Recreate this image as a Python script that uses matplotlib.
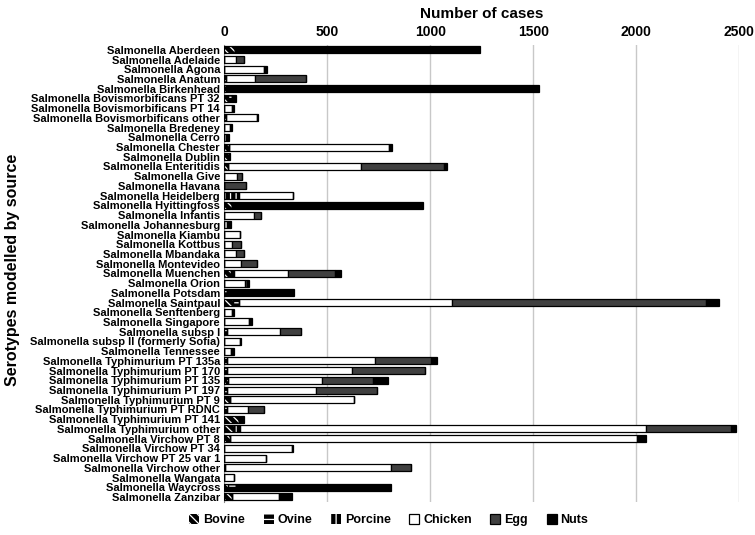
import numpy as np
import matplotlib
matplotlib.use("Agg")
import matplotlib.pyplot as plt
from matplotlib.patches import Patch

plt.rcParams["font.family"] = ["Liberation Sans", "DejaVu Sans"]
plt.rcParams["hatch.linewidth"] = 0.9

# Datos
serotipos = [
    "Salmonella Aberdeen", "Salmonella Adelaide", "Salmonella Agona", "Salmonella Anatum",
    "Salmonella Birkenhead", "Salmonella Bovismorbificans PT 32", "Salmonella Bovismorbificans PT 14",
    "Salmonella Bovismorbificans other", "Salmonella Bredeney", "Salmonella Cerro",
    "Salmonella Chester", "Salmonella Dublin", "Salmonella Enteritidis", "Salmonella Give",
    "Salmonella Havana", "Salmonella Heidelberg", "Salmonella Hyittingfoss", "Salmonella Infantis",
    "Salmonella Johannesburg", "Salmonella Kiambu", "Salmonella Kottbus", "Salmonella Mbandaka",
    "Salmonella Montevideo", "Salmonella Muenchen", "Salmonella Orion", "Salmonella Potsdam",
    "Salmonella Saintpaul", "Salmonella Senftenberg", "Salmonella Singapore", "Salmonella subsp I",
    "Salmonella subsp II (formerly Sofia)", "Salmonella Tennessee", "Salmonella Typhimurium PT 135a",
    "Salmonella Typhimurium PT 170", "Salmonella Typhimurium PT 135", "Salmonella Typhimurium PT 197",
    "Salmonella Typhimurium PT 9", "Salmonella Typhimurium PT RDNC", "Salmonella Typhimurium PT 141",
    "Salmonella Typhimurium other", "Salmonella Virchow PT 8", "Salmonella Virchow PT 34",
    "Salmonella Virchow PT 25 var 1", "Salmonella Virchow other", "Salmonella Wangata",
    "Salmonella Waycross", "Salmonella Zanzibar",
]

bovine = [50, 0, 0, 0, 0, 20, 0, 0, 0, 0, 25, 25, 20, 0, 0, 0, 40, 0, 0, 0, 0, 0, 0, 32,
          0, 0, 42, 0, 0, 0, 0, 0, 0, 0, 10, 0, 30, 0, 70, 48, 30, 0, 0, 0, 0, 20, 37]
ovine = [0, 0, 0, 8, 10, 20, 0, 10, 0, 0, 0, 0, 0, 0, 0, 0, 0, 0, 0, 0, 0, 0, 0, 0,
         0, 15, 28, 0, 0, 12, 0, 0, 12, 12, 8, 12, 0, 12, 0, 0, 0, 0, 0, 5, 0, 38, 0]
porcine = [0, 0, 0, 0, 0, 0, 0, 0, 0, 12, 0, 0, 0, 0, 0, 70, 0, 0, 0, 0, 0, 0, 0, 15,
           0, 0, 0, 0, 0, 0, 0, 0, 0, 0, 0, 0, 0, 0, 0, 29, 0, 0, 0, 0, 0, 0, 0]
chicken = [0, 55, 195, 140, 0, 0, 40, 150, 30, 0, 775, 0, 645, 60, 0, 262, 0, 145, 12, 75,
           37, 57, 80, 264, 100, 0, 1037, 40, 118, 260, 78, 32, 720, 607, 456, 432, 600, 105,
           0, 1971, 1975, 328, 204, 805, 45, 0, 231]
egg = [0, 40, 0, 250, 0, 0, 0, 0, 0, 0, 0, 0, 400, 25, 105, 0, 0, 35, 0, 0, 43, 37, 78, 226,
       10, 0, 1233, 0, 0, 100, 0, 0, 270, 355, 248, 296, 0, 76, 0, 413, 0, 0, 0, 97, 0, 0, 0]
nuts = [1190, 0, 15, 0, 1520, 15, 5, 5, 8, 10, 15, 5, 15, 0, 0, 3, 925, 0, 20, 3, 0, 0, 0,
        32, 10, 325, 63, 5, 15, 0, 3, 15, 30, 0, 75, 0, 0, 0, 24, 24, 43, 8, 0, 0, 0, 750, 60]

fuentes = ["Bovine", "Ovine", "Porcine", "Chicken", "Egg", "Nuts"]
series = [bovine, ovine, porcine, chicken, egg, nuts]
estilos = [
    dict(color="black", hatch="\\\\\\\\", hatched=True),
    dict(color="black", hatch="---", hatched=True),
    dict(color="black", hatch="|||", hatched=True),
    dict(color="white", hatch=None, hatched=False),
    dict(color="#404040", hatch=None, hatched=False),
    dict(color="black", hatch=None, hatched=False),
]

fig = plt.figure(figsize=(7.55, 5.35), dpi=100)
ax = fig.add_axes([0.297, 0.062, 0.682, 0.854])

y = np.arange(len(serotipos))
izq = np.zeros(len(serotipos))
manejadores = []
for nombre, valores, est in zip(fuentes, series, estilos):
    v = np.array(valores, dtype=float)
    if est["hatched"]:
        ax.barh(y, v, left=izq, height=0.72, color=est["color"], edgecolor="white",
                hatch=est["hatch"], linewidth=0, zorder=3)
        ax.barh(y, v, left=izq, height=0.72, fill=False, edgecolor="black",
                linewidth=0.9, zorder=4)
        manejadores.append(Patch(facecolor="black", edgecolor="white", hatch=est["hatch"],
                                 linewidth=0, label=nombre))
    else:
        ax.barh(y, v, left=izq, height=0.72, color=est["color"], edgecolor="black",
                linewidth=0.9, zorder=3)
        manejadores.append(Patch(facecolor=est["color"], edgecolor="black",
                                 linewidth=0.9, label=nombre))
    izq += v

ax.set_ylim(len(serotipos) - 0.5, -0.5)
ax.set_xlim(0, 2500)
ax.set_xticks(np.arange(0, 2501, 500))
ax.xaxis.tick_top()
ax.xaxis.set_label_position("top")
ax.tick_params(axis="both", length=0)
ax.tick_params(axis="x", labelsize=10, pad=4)
for t in ax.get_xticklabels():
    t.set_fontweight("bold")
ax.set_yticks(y)
ax.set_yticklabels(serotipos, fontsize=8.0, fontweight="bold")
ax.tick_params(axis="y", pad=3)
ax.grid(axis="x", color="#c8c8c8", linewidth=1, zorder=0)
for lado in ["top", "right", "bottom"]:
    ax.spines[lado].set_visible(False)
ax.spines["left"].set_color("#888888")

ax.set_xlabel("Number of cases", fontsize=11, fontweight="bold", labelpad=5)
fig.text(0.017, 0.495, "Serotypes modelled by source", rotation=90, va="center",
         ha="center", fontsize=11.5, fontweight="bold")

fig.legend(handles=manejadores, loc="lower center", bbox_to_anchor=(0.515, -0.005), ncol=6,
           frameon=False, prop=dict(size=9, weight="bold"), handlelength=0.8,
           handleheight=0.8, handletextpad=0.3, columnspacing=1.5)

fig.savefig("out.png", dpi=100)
